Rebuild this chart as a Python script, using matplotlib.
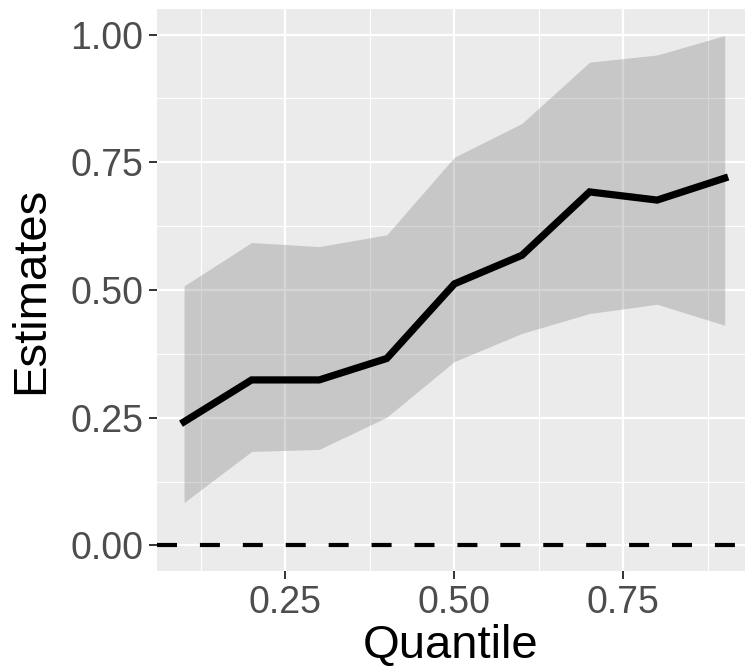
import matplotlib
matplotlib.use("Agg")
import matplotlib.pyplot as plt

quantile = [0.1, 0.2, 0.3, 0.4, 0.5, 0.6, 0.7, 0.8, 0.9]
estimate = [0.242, 0.324, 0.324, 0.366, 0.512, 0.568, 0.692, 0.676, 0.719]
lower = [0.084, 0.184, 0.188, 0.251, 0.360, 0.415, 0.454, 0.472, 0.431]
upper = [0.508, 0.593, 0.585, 0.608, 0.760, 0.826, 0.946, 0.960, 0.998]
x_ticks = [0.25, 0.50, 0.75]
x_labels = ["0.25", "0.50", "0.75"]
y_ticks = [0.00, 0.25, 0.50, 0.75, 1.00]
y_labels = ["0.00", "0.25", "0.50", "0.75", "1.00"]

plt.rcParams['font.family'] = ['Liberation Sans', 'DejaVu Sans']

fig = plt.figure(figsize=(7.45, 6.66), dpi=100)
ax = fig.add_axes([157/745, 95/666, 588/745, 562/666])
ax.set_facecolor('#EBEBEB')
for s in ax.spines.values():
    s.set_visible(False)

ax.set_xlim(0.06, 0.93)
ax.set_ylim(-0.05, 1.05)
ax.set_xticks(x_ticks)
ax.set_xticklabels(x_labels)
ax.set_yticks(y_ticks)
ax.set_yticklabels(y_labels)
ax.set_xticks([0.125, 0.375, 0.625, 0.875], minor=True)
ax.set_yticks([0.125, 0.375, 0.625, 0.875], minor=True)
ax.grid(which='major', color='white', linewidth=1.6)
ax.grid(which='minor', color='white', linewidth=0.8)
ax.set_axisbelow(True)
ax.tick_params(which='major', length=6, width=1.4, color='#333333',
               labelsize=27, labelcolor='#4D4D4D', pad=4)
ax.tick_params(which='minor', length=0)

ax.fill_between(quantile, lower, upper, color='#767676', alpha=0.3, linewidth=0, zorder=2)
ax.plot(quantile, estimate, color='black', linewidth=5.2, solid_joinstyle='miter', zorder=3)
ax.axhline(0, color='black', linewidth=3, dashes=(4.8, 5.5), dash_capstyle='butt', zorder=3)

ax.set_xlabel('Quantile', fontsize=34, labelpad=2)
ax.set_ylabel('Estimates', fontsize=34, labelpad=12)

fig.savefig('out.png', dpi=100)
